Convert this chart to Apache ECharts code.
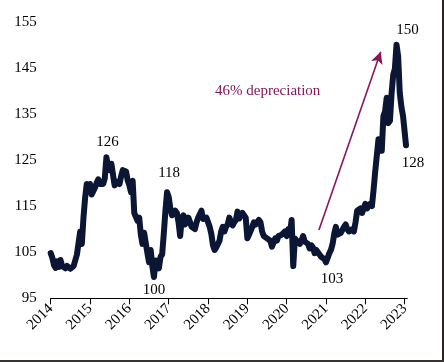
<!DOCTYPE html>
<html>
<head>
<meta charset="utf-8">
<script src="https://cdn.jsdelivr.net/npm/echarts@6/dist/echarts.min.js"></script>
<style>html,body{margin:0;padding:0;background:#fff;}#c{width:444px;height:362px;}</style>
</head>
<body>
<div id="c"></div>
<script>
// Semi-monthly readings (1st and 16th of each month)
const years = [2014, 2015, 2016, 2017, 2018, 2019, 2020, 2021, 2022];
const v2014 = [104.8, 103.8, 102.2, 101.6, 103.0, 101.8, 103.3, 102.0, 101.8, 101.5, 102.0, 101.6, 101.4, 101.3, 102.0, 101.7, 104.5, 107.0, 109.5, 106.8, 112.5, 116.8, 119.8, 118.5];
const v2015 = [119.8, 117.5, 117.8, 119.0, 120.0, 120.8, 119.8, 119.5, 119.8, 121.0, 125.6, 123.5, 122.8, 124.2, 124.0, 119.5, 119.8, 120.3, 119.8, 121.5, 122.8, 123.2, 122.5, 120.5];
const v2016 = [119.5, 118.0, 120.5, 113.5, 113.5, 111.8, 112.5, 108.8, 106.8, 109.2, 109.5, 104.8, 102.8, 105.5, 102.0, 99.6, 103.2, 102.2, 101.5, 104.0, 104.5, 109.0, 114.0, 118.0];
const v2017 = [117.0, 114.5, 113.0, 113.5, 114.0, 113.5, 111.5, 108.5, 112.5, 113.0, 111.0, 111.0, 112.5, 112.5, 110.5, 110.2, 110.0, 111.5, 112.5, 112.2, 114.0, 112.2, 112.5, 112.5];
const v2018 = [112.5, 110.5, 109.0, 106.5, 105.5, 106.0, 106.3, 107.5, 109.5, 110.5, 109.5, 110.5, 111.0, 112.5, 111.5, 110.8, 111.5, 112.0, 113.8, 112.3, 113.0, 113.5, 113.5, 112.5];
const v2019 = [108.0, 108.8, 109.0, 110.5, 111.5, 111.0, 111.5, 112.0, 111.5, 109.5, 108.5, 108.5, 108.0, 108.0, 107.5, 106.2, 106.5, 108.0, 107.5, 108.5, 108.5, 108.8, 109.0, 109.5];
const v2020 = [108.5, 110.0, 109.0, 112.0, 102.0, 108.0, 107.5, 107.5, 106.8, 107.5, 108.5, 107.3, 107.5, 106.8, 105.8, 106.5, 106.0, 104.8, 105.5, 105.5, 104.5, 104.0, 104.2, 103.5];
const v2021 = [102.8, 103.8, 104.8, 105.5, 106.8, 109.0, 110.5, 108.8, 108.8, 109.2, 109.5, 110.5, 111.0, 110.0, 109.5, 109.5, 110.0, 109.5, 111.5, 114.0, 114.0, 114.5, 113.5, 113.8];
const v2022 = [115.5, 114.5, 115.0, 115.5, 115.0, 118.5, 122.5, 126.0, 129.5, 129.0, 127.0, 134.5, 135.5, 138.5, 133.0, 133.5, 139.5, 143.5, 144.8, 150.0, 147.5, 139.5, 136.5, 134.5];
const v2023 = [131.0, 128.2];
const x2023 = [2023.0, 2023.033];

const yTickLabels = [95, 105, 115, 125, 135, 145, 155];
const xTickLabels = [2014, 2015, 2016, 2017, 2018, 2019, 2020, 2021, 2022, 2023];

const annoTexts = ['126', '118', '100', '103', '150', '128'];
const annoX = [2015.42, 2016.96, 2016.625, 2021.0, 2022.79, 2023.033];
const annoY = [125.6, 118.0, 99.6, 102.8, 150.0, 128.2];
const annoOffsets = [[1, -15.5], [2, -19.5], [0, 13], [6, 16.5], [11, -15], [7, 17.5]];

const arrowFrom = [2020.82, 109.8];
const arrowTo = [2022.39, 148.5];
const arrowText = '46% depreciation';

const yearVals = [v2014, v2015, v2016, v2017, v2018, v2019, v2020, v2021, v2022];
const data = [];
years.forEach((y, i) => {
  yearVals[i].forEach((v, k) => data.push([y + k / 24, v]));
});
v2023.forEach((v, k) => data.push([x2023[k], v]));

const purple = '#86175a';
const serif = '"Liberation Serif", "DejaVu Serif", serif';

const chart = echarts.init(document.getElementById('c'), null, {renderer: 'canvas'});
chart.setOption({
  animation: false,
  backgroundColor: '#ffffff',
  grid: {left: 50.7, right: 36.7, top: 21.7, bottom: 63.7, containLabel: false},
  xAxis: {
    type: 'value', min: 2014, max: 2023.066, interval: 1,
    axisLine: {show: true, lineStyle: {color: '#000', width: 1}},
    axisTick: {show: true, length: 6, inside: false, customValues: xTickLabels, lineStyle: {color: '#000'}},
    axisLabel: {show: true, rotate: 45, margin: 8, customValues: xTickLabels, color: '#000',
      fontFamily: serif, fontSize: 15, formatter: v => String(Math.round(v))},
    splitLine: {show: false}
  },
  yAxis: {
    type: 'value', min: 95, max: 155, interval: 10,
    axisLine: {show: false}, axisTick: {show: false},
    axisLabel: {show: true, margin: 14, color: '#000', fontFamily: serif, fontSize: 15,
      customValues: yTickLabels},
    splitLine: {show: false}
  },
  series: [{
    type: 'line', data: data, showSymbol: false, symbol: 'none',
    lineStyle: {color: '#0a1633', width: 6, join: 'round', cap: 'round'},
    itemStyle: {color: '#0a1633'},
    markLine: {
      silent: true, symbol: ['none', 'arrow'], symbolSize: [9, 12],
      label: {show: false},
      lineStyle: {color: purple, width: 1.6, type: 'solid'},
      emphasis: {disabled: true},
      data: [[{coord: arrowFrom}, {coord: arrowTo}]]
    },
    markPoint: {
      silent: true, symbol: 'circle', symbolSize: 1,
      itemStyle: {color: 'rgba(0,0,0,0)'},
      data: annoTexts.map((t, i) => ({
        coord: [annoX[i], annoY[i]], value: t,
        label: {show: true, position: 'inside', formatter: t, offset: annoOffsets[i],
          color: '#000', fontFamily: serif, fontSize: 15}
      }))
    }
  }],
  graphic: [
    {type: 'text', left: 215, top: 84, silent: true,
      style: {text: arrowText, fill: purple, font: '15px ' + serif}},
    {type: 'rect', shape: {x: 442, y: 0, width: 2, height: 362}, style: {fill: '#2b2424'}, silent: true},
    {type: 'rect', shape: {x: 0, y: 360, width: 444, height: 2}, style: {fill: '#3a3232'}, silent: true}
  ]
});
</script>
</body>
</html>
